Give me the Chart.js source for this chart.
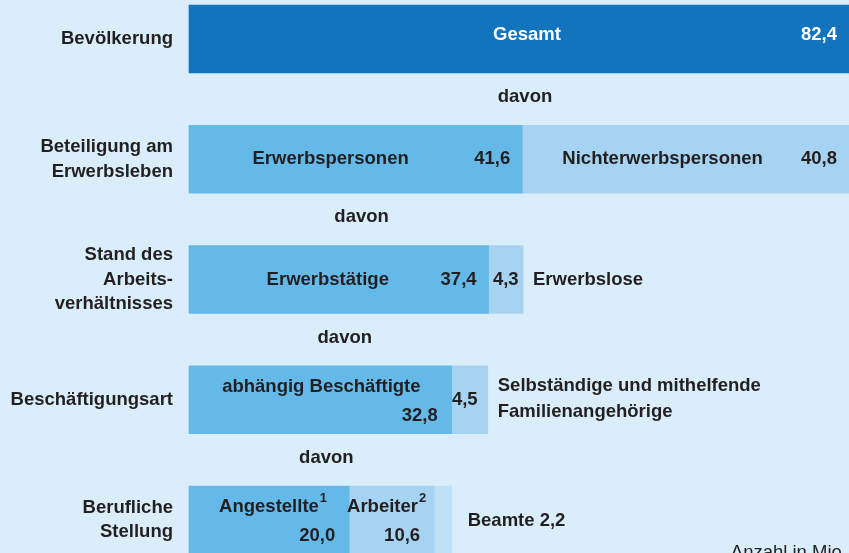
<!DOCTYPE html>
<html>
<head>
<meta charset="utf-8">
<script src="https://cdn.jsdelivr.net/npm/chart.js@4"></script>
<style>
  html, body { margin: 0; padding: 0; background: #d9eefa; }
  #wrap { width: 849px; height: 553px; position: relative; overflow: hidden; }
</style>
</head>
<body>
<div id="wrap"><canvas id="flowChart"></canvas></div>
<script>
// rows of the breakdown, top to bottom
const rowLabels = [['Bevölkerung'], ['Beteiligung am', 'Erwerbsleben'], ['Stand des', 'Arbeits-', 'verhältnisses'], ['Beschäftigungsart'], ['Berufliche', 'Stellung']];
// segment values in Mio. (first, second, third segment of each row)
const firstValues = [82.4, 41.6, 37.4, 32.8, 20.0];
const secondValues = [0, 40.8, 4.3, 4.5, 10.6];
const thirdValues = [0, 0, 0, 0, 2.2];
const firstNames = ['Gesamt', 'Erwerbspersonen', 'Erwerbstätige', 'abhängig Beschäftigte', 'Angestellte¹'];
const secondNames = ['', 'Nichterwerbspersonen', 'Erwerbslose', 'Selbständige und mithelfende\nFamilienangehörige', 'Arbeiter²'];
const thirdNames = ['', '', '', '', 'Beamte'];
const linkWord = 'davon';
const unitNote = 'Anzahl in Mio.';

const ink = '#231f20';
const boldFont = 'bold 18.5px "Liberation Sans", Arial, sans-serif';
const supFont = 'bold 13px "Liberation Sans", Arial, sans-serif';
const supMap = { '¹': '1', '²': '2' };
const fmt = v => v.toFixed(1).replace('.', ',');

// centered text with an optional raised footnote digit
function drawName(ctx, text, x, y) {
  const last = text.slice(-1);
  if (!supMap[last]) {
    ctx.textAlign = 'center';
    ctx.fillText(text, x, y);
    return;
  }
  const base = text.slice(0, -1);
  const w1 = ctx.measureText(base).width;
  ctx.font = supFont;
  const w2 = ctx.measureText(supMap[last]).width;
  const left = x - (w1 + w2 + 1) / 2;
  ctx.textAlign = 'left';
  ctx.fillText(supMap[last], left + w1 + 1, y - 9);
  ctx.font = boldFont;
  ctx.fillText(base, left, y);
}

const flowLabels = {
  id: 'flowLabels',
  afterDatasetsDraw(chart, args, opts) {
    const ctx = chart.ctx;
    const area = chart.chartArea;
    const yScale = chart.scales.y;
    const names = [firstNames, secondNames, thirdNames];
    const values = [firstValues, secondValues, thirdValues];
    ctx.save();
    ctx.font = boldFont;
    ctx.textBaseline = 'middle';

    // row labels on the left
    ctx.fillStyle = ink;
    ctx.textAlign = 'right';
    rowLabels.forEach((lines, i) => {
      const cy = yScale.getPixelForValue(i);
      lines.forEach((t, k) => {
        ctx.fillText(t, area.left - 16, cy + (k - (lines.length - 1) / 2) * 24.5);
      });
    });

    // "davon" between rows, over the first segment
    ctx.textAlign = 'center';
    const first = chart.getDatasetMeta(0).data;
    for (let i = 0; i < first.length - 1; i++) {
      const x = (first[i].base + first[i].x) / 2 + 6;
      const y = (first[i].y + first[i + 1].y) / 2 - 2;
      ctx.fillText(linkWord, x, y);
    }

    // segment labels
    for (let d = 0; d < 3; d++) {
      const bars = chart.getDatasetMeta(d).data;
      bars.forEach((bar, i) => {
        const mode = opts.modes[d][i];
        if (!mode) return;
        const name = names[d][i];
        const val = fmt(values[d][i]);
        const shift = opts.shift[d][i] || 0;
        const mid = (bar.base + bar.x) / 2;
        ctx.font = boldFont;
        ctx.fillStyle = (d === 0 && i === 0) ? '#ffffff' : ink;
        if (mode === 'inline') {
          const y = bar.y + (i === 0 ? -4 : 0);
          drawName(ctx, name, mid + shift, y);
          ctx.textAlign = 'right';
          ctx.fillText(val, bar.x - 12, y);
        } else if (mode === 'twoLine') {
          drawName(ctx, name, mid + shift, bar.y - 13);
          ctx.textAlign = 'right';
          ctx.fillText(val, bar.x - 14, bar.y + 16);
        } else if (mode === 'narrow') {
          ctx.textAlign = 'center';
          ctx.fillText(val, mid + shift, bar.y);
          ctx.textAlign = 'left';
          const lines = name.split('\n');
          lines.forEach((t, k) => {
            ctx.fillText(t, bar.x + 10, bar.y + (k - (lines.length - 1) / 2) * 26 - (lines.length > 1 ? 1 : 0));
          });
        } else if (mode === 'after') {
          ctx.textAlign = 'left';
          ctx.fillText(name + ' ' + val, bar.x + 16, bar.y + 1);
        }
      });
    }

    // unit note, bottom right
    ctx.font = '18.5px "Liberation Sans", Arial, sans-serif';
    ctx.fillStyle = ink;
    ctx.textAlign = 'right';
    ctx.textBaseline = 'top';
    ctx.fillText(unitNote, area.right - 2, 544);
    ctx.restore();
  }
};

new Chart(document.getElementById('flowChart'), {
  type: 'bar',
  data: {
    labels: rowLabels.map(l => l.join(' ')),
    datasets: [
      { data: firstValues, backgroundColor: ['#1274bc', '#64b9e8', '#64b9e8', '#64b9e8', '#64b9e8'] },
      { data: secondValues, backgroundColor: '#a5d3f1' },
      { data: thirdValues, backgroundColor: '#bfe0f5' }
    ]
  },
  options: {
    indexAxis: 'y',
    responsive: true,
    maintainAspectRatio: false,
    animation: false,
    layout: { padding: { left: 189, right: 0, top: 39, bottom: 33 } },
    datasets: { bar: { barThickness: 68, borderWidth: 0, clip: false } },
    scales: {
      x: { stacked: true, display: false, min: 0, max: 82.4 },
      y: { stacked: true, display: false, offset: false }
    },
    plugins: {
      legend: { display: false },
      tooltip: { enabled: false },
      flowLabels: {
        modes: [
          ['inline', 'inline', 'inline', 'twoLine', 'twoLine'],
          [null, 'inline', 'narrow', 'narrow', 'twoLine'],
          [null, null, null, null, 'after']
        ],
        shift: [
          [8, -25, -11, 1, 4],
          [0, -23, 0, -5, -5],
          [0, 0, 0, 0, 0]
        ]
      }
    }
  },
  plugins: [flowLabels]
});
</script>
</body>
</html>
